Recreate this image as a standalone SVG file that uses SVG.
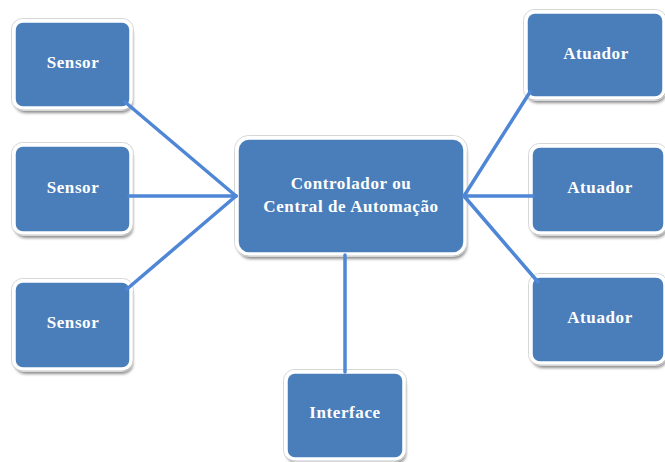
<svg xmlns="http://www.w3.org/2000/svg" width="665" height="462" viewBox="0 0 665 462">
<defs>
<filter id="sh" x="-20%" y="-20%" width="140%" height="140%">
<feGaussianBlur stdDeviation="1.5"/>
</filter>
</defs>
<style>
.shadow{fill:#8c8c8c;filter:url(#sh)}
.box{fill:#4a7ebb;stroke:#ffffff;stroke-width:3.5}
.rim{fill:none;stroke:#d6d6d6;stroke-width:1}
.lbl{font-family:"Liberation Serif","Times New Roman",serif;font-weight:bold;font-size:17px;fill:#ffffff;text-anchor:middle;letter-spacing:0.6px}
.con{stroke:#4f87d6;stroke-width:3.5;fill:none;stroke-linecap:round}
</style>
<rect width="665" height="462" fill="#ffffff"/>
<g id="sensor1">
<rect class="shadow" x="15" y="25" width="118" height="88" rx="10"/>
<rect class="rim" x="11.5" y="18.5" width="122" height="92" rx="11"/>
<rect class="box" x="14" y="21" width="117" height="87" rx="9"/>
<text class="lbl" x="73" y="68">Sensor</text>
</g>
<g id="sensor2">
<rect class="shadow" x="15" y="149" width="118" height="89" rx="10"/>
<rect class="rim" x="11.5" y="142.5" width="122" height="93" rx="11"/>
<rect class="box" x="14" y="145" width="117" height="88" rx="9"/>
<text class="lbl" x="73" y="193">Sensor</text>
</g>
<g id="sensor3">
<rect class="shadow" x="15" y="285" width="118" height="89" rx="10"/>
<rect class="rim" x="11.5" y="278.5" width="122" height="93" rx="11"/>
<rect class="box" x="14" y="281" width="117" height="88" rx="9"/>
<text class="lbl" x="73" y="328">Sensor</text>
</g>
<g id="controlador">
<rect class="shadow" x="238" y="142" width="229" height="117" rx="13"/>
<rect class="rim" x="234.5" y="135.5" width="233" height="121" rx="14"/>
<rect class="box" x="237" y="138" width="228" height="116" rx="12"/>
<text class="lbl" x="351" y="189">Controlador ou</text>
<text class="lbl" x="351" y="212">Central de Automação</text>
</g>
<g id="atuador1">
<rect class="shadow" x="527" y="16" width="139" height="87" rx="10"/>
<rect class="rim" x="523.5" y="9.5" width="143" height="91" rx="11"/>
<rect class="box" x="526" y="12" width="138" height="86" rx="9"/>
<text class="lbl" x="596" y="59">Atuador</text>
</g>
<g id="atuador2">
<rect class="shadow" x="532" y="150" width="135" height="88" rx="10"/>
<rect class="rim" x="528.5" y="143.5" width="139" height="92" rx="11"/>
<rect class="box" x="531" y="146" width="134" height="87" rx="9"/>
<text class="lbl" x="600" y="193">Atuador</text>
</g>
<g id="atuador3">
<rect class="shadow" x="532" y="280" width="135" height="88" rx="10"/>
<rect class="rim" x="528.5" y="273.5" width="139" height="92" rx="11"/>
<rect class="box" x="531" y="276" width="134" height="87" rx="9"/>
<text class="lbl" x="600" y="323">Atuador</text>
</g>
<g id="interface">
<rect class="shadow" x="287" y="376" width="119" height="88" rx="10"/>
<rect class="rim" x="283.5" y="369.5" width="123" height="92" rx="11"/>
<rect class="box" x="286" y="372" width="118" height="87" rx="9"/>
<text class="lbl" x="345" y="418">Interface</text>
</g>
<g id="connectors">
<line class="con" x1="125" y1="102" x2="236" y2="196"/>
<line class="con" x1="129" y1="196" x2="236" y2="196"/>
<line class="con" x1="127" y1="289" x2="236" y2="196"/>
<line class="con" x1="464" y1="196" x2="530" y2="92"/>
<line class="con" x1="464" y1="196" x2="533" y2="196"/>
<line class="con" x1="464" y1="196" x2="538" y2="282"/>
<line class="con" x1="345" y1="255" x2="345" y2="372"/>
</g>
</svg>
